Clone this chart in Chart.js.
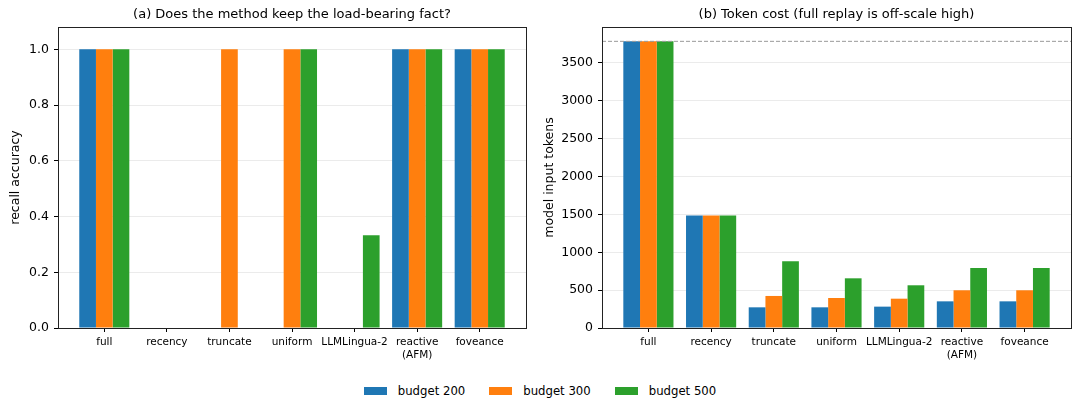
<!DOCTYPE html>
<html>
<head>
<meta charset="utf-8">
<script src="https://cdn.jsdelivr.net/npm/chart.js@4.4.1/dist/chart.umd.min.js"></script>
<style>
  body { margin: 0; background: #fff; font-family: "DejaVu Sans", sans-serif; }
  #wrap { position: relative; width: 1080px; height: 414px; overflow: hidden; }
  .panel { position: absolute; top: 0; width: 540px; height: 370px; }
  #legend { position: absolute; top: 384px; left: 0; width: 1080px; display: flex; justify-content: center; font-size: 11.7px; color: #000; }
  #legend span.item { display: flex; align-items: center; margin: 0 12px; }
  #legend span.sw { display: inline-block; width: 23px; height: 8px; margin-right: 11px; }
</style>
</head>
<body>
<div id="wrap">
  <div class="panel" style="left:0"><canvas id="recallChart" width="540" height="370"></canvas></div>
  <div class="panel" style="left:540px"><canvas id="tokenChart" width="540" height="370"></canvas></div>
  <div id="legend"></div>
</div>
<script>
// datos
var methods = ['full', 'recency', 'truncate', 'uniform', 'LLMLingua-2', 'reactive\n(AFM)', 'foveance'];
var budgets = ['budget 200', 'budget 300', 'budget 500'];
var colors = ['#1f77b4', '#ff7f0e', '#2ca02c'];

var recall200 = [1, 0, 0, 0, 0, 1, 1];
var recall300 = [1, 0, 1, 1, 0, 1, 1];
var recall500 = [1, 0, 0, 1, 0.333, 1, 1];

var tokens200 = [3785, 1484, 273, 273, 282, 352, 352];
var tokens300 = [3785, 1484, 423, 396, 387, 498, 498];
var tokens500 = [3785, 1484, 881, 656, 564, 793, 793];

var recallTicks = [0, 0.2, 0.4, 0.6, 0.8, 1.0];
var tokenTicks = [0, 500, 1000, 1500, 2000, 2500, 3000, 3500];

var fullReplay = tokens200[0]; // linea discontinua

Chart.defaults.font.family = '"DejaVu Sans", sans-serif';
Chart.defaults.color = '#000';

function toPoints(arr) {
    return arr.map(function (v, i) { return { x: i, y: v }; });
}

function makeDatasets(series) {
    return series.map(function (arr, k) {
        return {
            label: budgets[k],
            data: toPoints(arr),
            backgroundColor: colors[k],
            borderWidth: 0,
            categoryPercentage: 0.8,
            barPercentage: 1.0
        };
    });
}

// marco negro alrededor del area del grafico
var framePlugin = {
    id: 'frame',
    afterDraw: function (chart) {
        var a = chart.chartArea, c = chart.ctx;
        c.save();
        c.strokeStyle = '#222';
        c.lineWidth = 1;
        c.strokeRect(Math.round(a.left) + 0.5, Math.round(a.top) + 0.5, Math.round(a.right - a.left), Math.round(a.bottom - a.top));
        c.restore();
    }
};

var dashPlugin = {
    id: 'fullLine',
    afterDatasetsDraw: function (chart) {
        var a = chart.chartArea, c = chart.ctx;
        var y = chart.scales.y.getPixelForValue(fullReplay);
        c.save();
        c.strokeStyle = '#999';
        c.lineWidth = 1;
        c.setLineDash([4, 2]);
        c.beginPath();
        c.moveTo(a.left, y);
        c.lineTo(a.right, y);
        c.stroke();
        c.restore();
    }
};

function xScale() {
    return {
        type: 'linear',
        min: -0.74,
        max: 6.74,
        offset: false,
        afterBuildTicks: function (s) { s.ticks = methods.map(function (m, i) { return { value: i }; }); },
        afterFit: function (s) { s.height = 42; },
        grid: { offset: false, drawOnChartArea: false, drawTicks: true, tickLength: 4, tickColor: '#000', color: '#000' },
        border: { display: false },
        ticks: {
            autoSkip: false, maxRotation: 0, padding: 4,
            font: { size: 10.5 },
            callback: function (v) { var m = methods[Math.round(v)]; return m.indexOf('\n') >= 0 ? m.split('\n') : m; }
        }
    };
}

function yScale(max, ticks, title, fmt, width, titlePad) {
    return {
        min: 0,
        max: max,
        afterBuildTicks: function (s) { s.ticks = ticks.map(function (v) { return { value: v }; }); },
        afterFit: function (s) { s.width = width; },
        grid: { color: '#ebebeb', drawTicks: true, tickLength: 4, tickColor: '#000' },
        border: { display: false },
        ticks: { font: { size: 12.5 }, padding: 5, callback: fmt },
        title: { display: true, text: title, font: { size: 12.5 }, padding: { top: titlePad, bottom: 0 } }
    };
}

function titleOpts(text) {
    // fullSize false => centrado sobre el area del grafico
    return { display: true, fullSize: false, text: text, color: '#000', font: { size: 13, weight: 'normal' }, padding: { top: 7, bottom: 4.4 } };
}

// (a) recall
new Chart(document.getElementById('recallChart').getContext('2d'), {
    type: 'bar',
    data: { datasets: makeDatasets([recall200, recall300, recall500]) },
    options: {
        responsive: false,
        animation: false,
        layout: { padding: { left: 0, right: 14, top: 0, bottom: 0 } },
        plugins: { legend: { display: false }, tooltip: { enabled: false }, title: titleOpts('(a) Does the method keep the load-bearing fact?') },
        scales: {
            x: xScale(),
            y: yScale(1.08, recallTicks, 'recall accuracy', function (v) { return v.toFixed(1); }, 58, 8.5)
        }
    },
    plugins: [framePlugin]
});

// (b) tokens
new Chart(document.getElementById('tokenChart').getContext('2d'), {
    type: 'bar',
    data: { datasets: makeDatasets([tokens200, tokens300, tokens500]) },
    options: {
        responsive: false,
        animation: false,
        layout: { padding: { left: 0, right: 9, top: 0, bottom: 0 } },
        plugins: { legend: { display: false }, tooltip: { enabled: false }, title: titleOpts('(b) Token cost (full replay is off-scale high)') },
        scales: {
            x: xScale(),
            y: yScale(fullReplay * 1.05, tokenTicks, 'model input tokens', function (v) { return String(v); }, 62, 2.5)
        }
    },
    plugins: [dashPlugin, framePlugin]
});

// leyenda comun
var legend = document.getElementById('legend');
budgets.forEach(function (b, k) {
    var item = document.createElement('span');
    item.className = 'item';
    var sw = document.createElement('span');
    sw.className = 'sw';
    sw.style.background = colors[k];
    item.appendChild(sw);
    item.appendChild(document.createTextNode(b));
    legend.appendChild(item);
});
</script>
</body>
</html>
